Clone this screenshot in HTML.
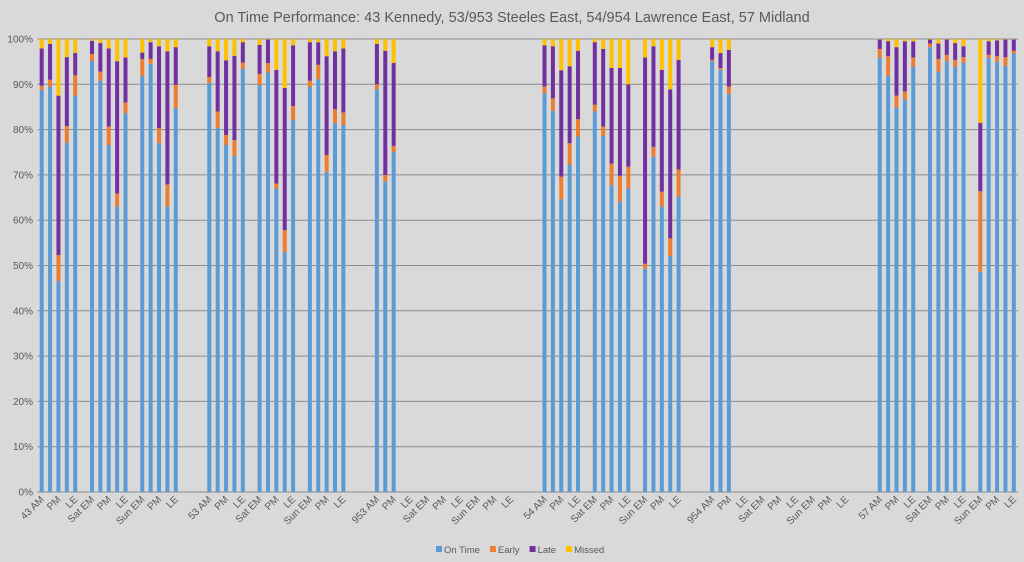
<!DOCTYPE html>
<html><head><meta charset="utf-8"><style>
html,body{margin:0;padding:0;background:#d9d9d9;}
svg{display:block;font-family:"Liberation Sans",sans-serif;}
</style></head><body>
<svg id="chart" width="1024" height="562" viewBox="0 0 1024 562">
<rect width="1024" height="562" fill="#d9d9d9"/>
<text x="512" y="22" text-anchor="middle" font-size="14.5" fill="#595959">On Time Performance: 43 Kennedy, 53/953 Steeles East, 54/954 Lawrence East, 57 Midland</text>
<g id="grid"></g>
<g id="yaxis"></g>
<g id="bars"></g>
<g id="xaxis"></g>
<g id="legend"></g>
</svg>
<script>
const routes = ["43","53","953","54","954","57"];
const slotNames = ["AM","MD","PM","EV","LE","","Sat EM","AM","PM","EV","LE","","Sun EM","AM","PM","EV","LE","","",""];
const yTicks = [0,10,20,30,40,50,60,70,80,90,100];
const seriesNames = ["On Time","Early","Late","Missed"];
const onTime = [
88.8,89.4,46.6,77.1,87.5,null,95.1,90.8,76.6,63.0,83.6,null,91.9,94.5,77.0,63.0,84.7,null,null,null,
90.3,80.4,76.6,74.2,93.4,null,89.9,92.6,67.0,53.0,82.1,null,89.4,91.1,70.7,81.4,81.0,null,null,null,
88.9,68.5,75.0,null,null,null,null,null,null,null,null,null,null,null,null,null,null,null,null,null,
88.0,84.1,64.6,72.2,78.5,null,84.0,78.6,67.7,64.1,67.0,null,49.3,74.0,63.0,52.1,65.2,null,null,null,
95.1,93.2,87.9,null,null,null,null,null,null,null,null,null,null,null,null,null,null,null,null,null,
95.8,91.9,84.9,86.6,93.9,null,98.2,92.8,95.1,93.9,94.8,null,48.6,95.8,94.9,94.1,96.8];
const early = [
0.9,1.6,5.7,3.7,4.5,null,1.6,2.0,4.1,2.9,2.4,null,3.7,1.1,3.3,4.9,5.2,null,null,null,
1.3,3.6,2.2,3.5,1.4,null,2.4,2.1,1.1,4.8,3.1,null,1.4,3.2,3.7,3.1,2.8,null,null,null,
1.1,1.5,1.4,null,null,null,null,null,null,null,null,null,null,null,null,null,null,null,null,null,
1.5,2.8,5.0,4.8,3.8,null,1.5,2.1,4.8,5.7,4.8,null,1.1,2.2,3.3,3.9,6.0,null,null,null,
0.3,0.4,1.6,null,null,null,null,null,null,null,null,null,null,null,null,null,null,null,null,null,
2.0,4.3,2.6,1.8,2.0,null,0.8,2.8,1.4,1.5,1.2,null,17.8,0.7,1.3,1.9,0.6];
const late = [
8.2,7.9,35.2,15.2,4.9,null,2.9,6.3,17.2,29.2,9.9,null,1.4,3.7,18.1,29.4,8.3,null,null,null,
6.8,13.3,16.5,18.6,4.5,null,6.4,5.2,25.1,31.4,13.4,null,8.5,5.0,21.8,12.8,14.1,null,null,null,
8.9,27.4,18.3,null,null,null,null,null,null,null,null,null,null,null,null,null,null,null,null,null,
9.1,11.5,23.5,17.0,15.1,null,13.8,17.1,21.1,23.8,18.2,null,45.5,22.2,26.9,32.9,24.2,null,null,null,
2.8,3.3,8.1,null,null,null,null,null,null,null,null,null,null,null,null,null,null,null,null,null,
2.1,3.3,10.7,11.1,3.6,null,0.9,3.4,3.4,3.7,2.4,null,15.1,3.0,3.5,3.9,2.5];
const missed = [
2.1,1.1,12.5,4.0,3.1,null,0.4,0.9,2.1,4.9,4.1,null,3.0,0.7,1.6,2.7,1.8,null,null,null,
1.6,2.7,4.7,3.7,0.7,null,1.3,0.1,6.8,10.8,1.4,null,0.7,0.7,3.8,2.7,2.1,null,null,null,
1.1,2.6,5.3,null,null,null,null,null,null,null,null,null,null,null,null,null,null,null,null,null,
1.4,1.6,6.9,6.0,2.6,null,0.7,2.2,6.4,6.4,10.0,null,4.1,1.6,6.8,11.1,4.6,null,null,null,
1.8,3.1,2.4,null,null,null,null,null,null,null,null,null,null,null,null,null,null,null,null,null,
0.1,0.5,1.8,0.5,0.5,null,0.1,1.0,0.1,0.9,1.6,null,18.5,0.5,0.3,0.1,0.1];

const NS="http://www.w3.org/2000/svg";
const colors=["#5b9bd5","#ed7d31","#7030a0","#ffc000"];
const series=[onTime,early,late,missed];
const pL=37.5,pR=1018,pT=39,pB=492;
const n=onTime.length;
const bw=(pR-pL)/n;
const xC=i=>pL+(i+0.5)*bw;
const yS=v=>pB-(v/100)*(pB-pT);
function mk(tag,attrs,parent){const e=document.createElementNS(NS,tag);for(const k in attrs)e.setAttribute(k,attrs[k]);parent.appendChild(e);return e;}
const grid=document.getElementById('grid'),yax=document.getElementById('yaxis'),bars=document.getElementById('bars'),xax=document.getElementById('xaxis'),leg=document.getElementById('legend');
yTicks.forEach(t=>{
  const l=mk('line',{x1:pL,x2:pR,y1:yS(t),y2:yS(t),stroke:'#8c8c8c','stroke-width':1},grid);
  
  
  const tx=mk('text',{x:33,y:yS(t)+3.5,'text-anchor':'end','font-size':10,fill:'#595959'},yax);
  tx.textContent=t+'%';
  
  
});
for(let i=0;i<n;i++){
  if(onTime[i]==null)continue;
  let acc=0;
  series.forEach((s,k)=>{
    const v=s[i]||0;
    const r=mk('rect',{x:xC(i)-2,y:yS(acc+v),width:4,height:Math.max(0,yS(acc)-yS(acc+v)),fill:colors[k]},bars);
    
    
    acc+=v;
  });
}
for(let i=0;i<n;i+=2){
  const ri=Math.floor(i/20),si=i%20;
  let lab=slotNames[si];
  if(!lab)continue;
  if(si===0)lab=routes[ri]+' '+lab;
  const x=xC(i)+3,y=500;
  const t=mk('text',{x:x,y:y,'text-anchor':'end','font-size':10,fill:'#595959',transform:'rotate(-45 '+x+' '+y+')'},xax);
  t.textContent=lab;
  
  
}
let lx=436;
seriesNames.forEach((nm,k)=>{
  const g=mk('g',{},leg);
  
  
  mk('rect',{x:lx,y:546,width:6,height:6,fill:colors[k]},g);
  const t=mk('text',{x:lx+8,y:553,'font-size':9.5,fill:'#595959'},g);
  t.textContent=nm;
  lx+=8+t.getComputedTextLength()+10;
});
</script>
</body></html>
